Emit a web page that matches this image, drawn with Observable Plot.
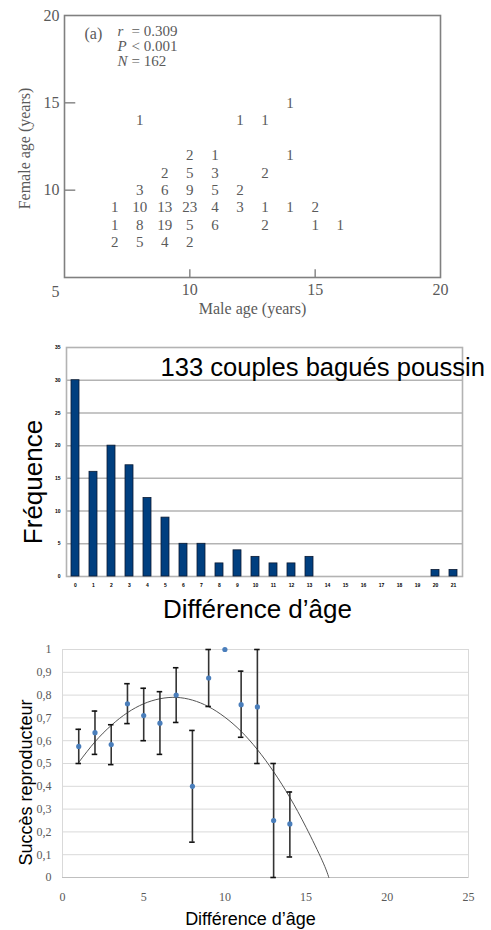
<!DOCTYPE html>
<html><head><meta charset="utf-8">
<script src="https://cdn.jsdelivr.net/npm/d3@7"></script>
<script src="https://cdn.jsdelivr.net/npm/@observablehq/plot@0.6"></script>
<style>
html,body{margin:0;padding:0;background:#fff}
body{width:491px;height:930px;position:relative;overflow:hidden}
.panel{position:absolute;left:0}
#p1{top:0}#p2{top:330px}#p3{top:630px}
</style></head><body>
<div id="p1" class="panel"></div><div id="p2" class="panel"></div><div id="p3" class="panel"></div>
<script>
// ---------- Panel (a): male age vs female age, counts ----------
const pairMale   = [14, 8,12,13, 10,11,14, 9,10,11,13, 8,9,10,11,12, 7,8,9,10,11,12,13,14,15, 7,8,9,10,11,13,15,16, 7,8,9,10];
const pairFemale = [15, 14,14,14, 12,12,12, 11,11,11,11, 10,10,10,10,10, 9,9,9,9,9,9,9,9,9, 8,8,8,8,8,8,8,8, 7,7,7,7];
const pairCount  = [1, 1,1,1, 2,1,1, 2,5,3,2, 3,6,9,5,2, 1,10,13,23,4,3,1,1,2, 1,8,19,5,6,2,1,1, 2,5,4,2];
const ageTicks = [10, 15, 20];
const ageInnerTicks = [10, 15];
const ageCornerLabel = ["5"];
const statLetters = ["r", "P", "N"];
const statRest = ["= 0.309", "< 0.001", "= 162"];

// ---------- Panel (b): histogram ----------
const diffCategories = ["0","1","2","3","4","5","6","7","8","9","10","11","12","13","14","15","16","17","18","19","20","21"];
const diffFrequency  = [30,16,20,17,12,9,5,5,2,4,3,2,2,3,0,0,0,0,0,0,1,1];
const freqTicks = [0,5,10,15,20,25,30,35];
const freqGrid = [5,10,15,20,25,30];

// ---------- Panel (c): reproductive success ----------
const succX    = [1,2,3,4,5,6,7,8,9,10,11,12,13,14];
const succY    = [0.575,0.635,0.583,0.762,0.71,0.677,0.80,0.40,0.875,1.0,0.758,0.748,0.25,0.235];
const succLow  = [0.50,0.54,0.495,0.675,0.60,0.54,0.68,0.155,0.75,null,0.615,0.50,0.0,0.09];
const succHigh = [0.65,0.73,0.67,0.85,0.83,0.815,0.92,0.645,1.0,null,0.905,1.0,0.50,0.375];
const trendX = [1,2,3,4,5,6,7,8,9,10,11,12,13,14,15,16,16.4];
const trendY = [0.505,0.595,0.667,0.723,0.762,0.784,0.79,0.778,0.749,0.703,0.641,0.561,0.464,0.351,0.220,0.073,0.0];
const succYTicks = [0,0.1,0.2,0.3,0.4,0.5,0.6,0.7,0.8,0.9,1];
const succXTicks = [0,5,10,15,20,25];

// ===== Panel (a) =====
const pairs = pairCount.map((c,i)=>({male:pairMale[i], female:pairFemale[i], count:c}));
const serif = "'Liberation Serif','DejaVu Serif',serif";
const grayA = "#5a5a5a";
const p1 = Plot.plot({
  width:491, height:320,
  marginLeft:64, marginRight:51, marginTop:15, marginBottom:43,
  x:{domain:[5,20]}, y:{domain:[5,20]},
  style:{fontFamily:serif, fontSize:"15px", color:grayA, background:"#fff"},
  marks:[
    Plot.frame({stroke:"#808080", strokeWidth:1.6}),
    Plot.ruleX(ageInnerTicks, {y1:5, y2:5.45, stroke:"#808080", strokeWidth:1.4}),
    Plot.ruleY(ageInnerTicks, {x1:5, x2:5.45, stroke:"#808080", strokeWidth:1.4}),
    Plot.axisX(ageTicks, {tickSize:0, tickPadding:6, fontSize:16, label:null}),
    Plot.axisY(ageTicks, {tickSize:0, tickPadding:5, fontSize:16, label:null}),
    Plot.text(ageCornerLabel, {frameAnchor:"bottom-left", lineAnchor:"middle", textAnchor:"middle", dx:-9, dy:14, fontSize:16, fill:grayA}),
    Plot.text(pairs, {x:"male", y:"female", text:"count", fontSize:15, fill:grayA}),
    Plot.text(["(a)"], {frameAnchor:"top-left", textAnchor:"start", lineAnchor:"middle", dx:20, dy:18, fontSize:16, fill:grayA}),
    Plot.text([statLetters.join("\n")], {frameAnchor:"top-left", textAnchor:"start", lineAnchor:"top", lineHeight:1, dx:53, dy:10, fontSize:15, fontStyle:"italic", fill:grayA}),
    Plot.text([statRest.join("\n")], {frameAnchor:"top-left", textAnchor:"start", lineAnchor:"top", lineHeight:1, dx:67, dy:10, fontSize:15, fill:grayA}),
    Plot.text(["Male age (years)"], {frameAnchor:"bottom", textAnchor:"middle", lineAnchor:"middle", dy:31, fontSize:16, fill:grayA}),
    Plot.text(["Female age (years)"], {frameAnchor:"left", textAnchor:"middle", lineAnchor:"middle", rotate:-90, dx:-40, dy:2, fontSize:16, fill:grayA})
  ]
});
document.getElementById("p1").appendChild(p1);

// ===== Panel (b) =====
const bars = diffCategories.map((c,i)=>({cat:c, freq:diffFrequency[i]}));
const sans = "'Liberation Sans',Arial,sans-serif";
const p2 = Plot.plot({
  width:491, height:298,
  marginLeft:66, marginRight:29, marginTop:17, marginBottom:52,
  x:{type:"band", domain:diffCategories, paddingInner:0.55, paddingOuter:0.25},
  y:{domain:[0,35]},
  style:{fontFamily:sans, fontSize:"5px", color:"#000", background:"transparent"},
  marks:[
    Plot.ruleY(freqGrid, {stroke:"#b3b3b3", strokeWidth:1.5}),
    Plot.frame({stroke:"#b3b3b3", strokeWidth:1.6}),
    Plot.barY(bars, {x:"cat", y:"freq", fill:"#003f7f", stroke:"#0b1b33", strokeWidth:0.8}),
    Plot.axisX(diffCategories, {tickSize:0, tickPadding:7, fontSize:5, fontWeight:"bold", label:null}),
    Plot.axisY(freqTicks, {tickSize:0, tickPadding:6, fontSize:5, fontWeight:"bold", label:null}),
    Plot.text(["133 couples bagués poussin"], {frameAnchor:"top-left", textAnchor:"start", lineAnchor:"middle", dx:94, dy:20, fontSize:25.6, fill:"#000"}),
    Plot.text(["Fréquence"], {frameAnchor:"left", textAnchor:"middle", lineAnchor:"middle", rotate:-90, dx:-33, dy:20, fontSize:26, fill:"#000"}),
    Plot.text(["Différence d’âge"], {frameAnchor:"bottom", textAnchor:"middle", lineAnchor:"middle", dx:-7, dy:33, fontSize:26, fill:"#000"})
  ]
});
document.getElementById("p2").appendChild(p2);

// ===== Panel (c) =====
const succ = succX.map((x,i)=>({x, y:succY[i], lo:succLow[i], hi:succHigh[i]}));
const errs = succ.filter(d=>d.lo!=null);
const trend = trendX.map((x,i)=>({x, y:trendY[i]}));
const capHalf = 0.17;
const p3 = Plot.plot({
  width:491, height:300,
  marginLeft:62, marginRight:23, marginTop:19, marginBottom:53,
  x:{domain:[0,25]}, y:{domain:[0,1]},
  style:{fontFamily:serif, fontSize:"12px", color:"#595959", background:"transparent"},
  marks:[
    Plot.ruleY(succYTicks.slice(1), {stroke:"#d9d9d9", strokeWidth:1}),
    Plot.frame({stroke:"#d9d9d9", strokeWidth:1}),
    Plot.ruleY([0], {stroke:"#bfbfbf", strokeWidth:1.2}),
    Plot.axisX(succXTicks, {tickSize:0, tickPadding:15, fontSize:12, label:null}),
    Plot.axisY(succYTicks, {tickSize:0, tickPadding:11, fontSize:12, label:null, tickFormat:d=>String(d).replace(".", ",")}),
    Plot.line(trend, {x:"x", y:"y", curve:"natural", stroke:"#555", strokeWidth:1}),
    Plot.ruleX(errs, {x:"x", y1:"lo", y2:"hi", stroke:"#333", strokeWidth:1.6}),
    Plot.ruleY(errs, {y:"lo", x1:d=>d.x-capHalf, x2:d=>d.x+capHalf, stroke:"#111", strokeWidth:1.6}),
    Plot.ruleY(errs, {y:"hi", x1:d=>d.x-capHalf, x2:d=>d.x+capHalf, stroke:"#111", strokeWidth:1.6}),
    Plot.dot(succ, {x:"x", y:"y", r:2.6, fill:"#4a7ebb", stroke:"none"}),
    Plot.text(["Différence d’âge"], {frameAnchor:"bottom", textAnchor:"middle", lineAnchor:"middle", dx:-15, dy:42, fontSize:18, fill:"#000", fontFamily:sans}),
    Plot.text(["Succès reproducteur"], {frameAnchor:"left", textAnchor:"middle", lineAnchor:"middle", rotate:-90, dx:-36, dy:19, fontSize:18, fill:"#000", fontFamily:sans})
  ]
});
document.getElementById("p3").appendChild(p3);
</script>
</body></html>
